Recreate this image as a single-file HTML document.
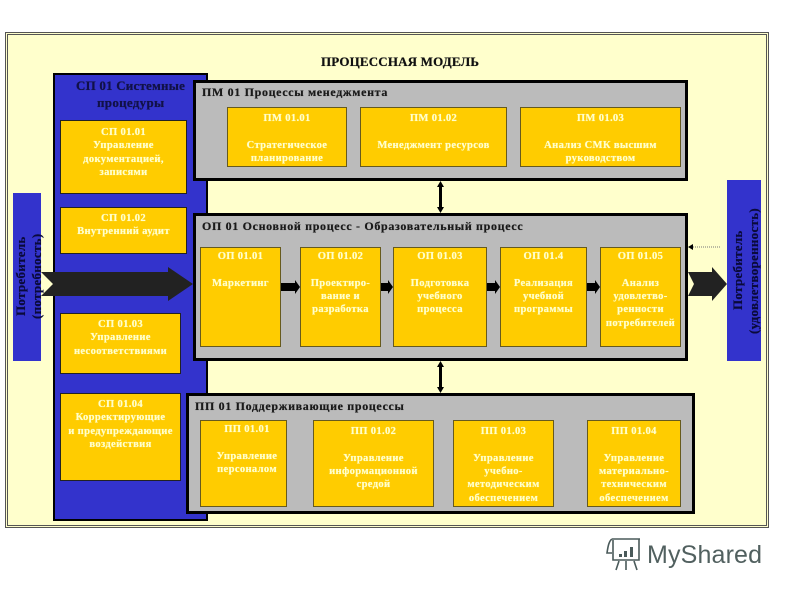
<!DOCTYPE html>
<html><head><meta charset="utf-8"><style>
html,body{margin:0;padding:0;background:#fff}
#p{position:relative;width:800px;height:600px;overflow:hidden;font-family:"Liberation Serif","Noto Serif CJK SC",serif;font-weight:bold}
#p div{position:absolute;box-sizing:border-box}
.y{background:#fc0;border:1px solid #665a1e;color:#ffc;font-size:10.6px;line-height:13.33px;text-align:center;letter-spacing:.33px;white-space:pre-line;text-shadow:0 0 .6px #ffc}
.s{border-color:#222}
.g{background:#bbb;border:3px solid #000}
.h{font-size:12px;letter-spacing:.66px;white-space:nowrap;color:#1a1a1a;line-height:14px;text-shadow:0 0 .5px #1a1a1a}
.v{writing-mode:vertical-rl;transform:rotate(180deg);text-align:center;white-space:pre-line;color:#0a0a3a;font-size:13px;line-height:16px;letter-spacing:.3px;text-shadow:0 0 .5px #0a0a3a}
</style></head><body><div id="p">
<div style="left:5px;top:32px;width:764px;height:496px;background:#ffc;border:3px double #555"></div>
<div class="h" style="left:321px;top:55px;color:#111;letter-spacing:.17px;font-size:13px">ПРОЦЕССНАЯ МОДЕЛЬ</div>

<div style="left:53px;top:73px;width:155px;height:448px;background:#33c;border:2px solid #000"></div>
<div class="h" style="left:76px;top:79px;color:#10104a;letter-spacing:.2px;font-size:13px">СП 01 Системные</div>
<div class="h" style="left:97px;top:96px;color:#10104a;letter-spacing:.3px;font-size:13px">процедуры</div>

<div class="v" style="left:13px;top:193px;width:28px;height:168px;background:#33c;overflow:visible;padding-top:2px">Потребитель
(потребность)</div>
<div class="v" style="left:727px;top:180px;width:34px;height:181px;background:#33c;padding-right:3px">Потребитель
(удовлетворенность)</div>

<div class="y s" style="left:60px;top:120px;width:127px;height:74px;padding-top:5px">СП 01.01
Управление
документацией,
записями</div>
<div class="y s" style="left:60px;top:207px;width:127px;height:47px;padding-top:4px">СП 01.02
Внутренний аудит</div>
<div class="y s" style="left:60px;top:313px;width:121px;height:61px;padding-top:4px">СП 01.03
Управление
несоответствиями</div>
<div class="y s" style="left:60px;top:393px;width:121px;height:88px;padding-top:4px">СП 01.04
Корректирующие
и предупреждающие
воздействия</div>

<div class="g" style="left:193px;top:80px;width:495px;height:101px"></div>
<div class="h" style="left:202px;top:85px">ПМ 01 Процессы менеджмента</div>
<div class="y" style="left:227px;top:107px;width:120px;height:60px;padding-top:4px">ПМ 01.01

Стратегическое
планирование</div>
<div class="y" style="left:360px;top:107px;width:147px;height:60px;padding-top:4px">ПМ 01.02

Менеджмент ресурсов</div>
<div class="y" style="left:520px;top:107px;width:161px;height:60px;padding-top:4px">ПМ 01.03

Анализ СМК высшим
руководством</div>

<div class="g" style="left:193px;top:213px;width:495px;height:148px"></div>
<div class="h" style="left:202px;top:219px">ОП 01 Основной процесс - Образовательный процесс</div>
<div class="y" style="left:200px;top:247px;width:81px;height:100px;padding-top:2px">ОП 01.01

Маркетинг</div>
<div class="y" style="left:300px;top:247px;width:81px;height:100px;padding-top:2px">ОП 01.02

Проектиро-
вание и
разработка</div>
<div class="y" style="left:393px;top:247px;width:94px;height:100px;padding-top:2px">ОП  01.03

Подготовка
учебного
процесса</div>
<div class="y" style="left:500px;top:247px;width:87px;height:100px;padding-top:2px">ОП  01.4

Реализация
учебной
программы</div>
<div class="y" style="left:600px;top:247px;width:81px;height:100px;padding-top:2px">ОП  01.05

Анализ
удовлетво-
ренности
потребителей</div>

<div class="g" style="left:186px;top:393px;width:509px;height:121px"></div>
<div class="h" style="left:195px;top:399px">ПП 01 Поддерживающие процессы</div>
<div class="y" style="left:200px;top:420px;width:87px;height:87px;padding:2px 0 0 7px">ПП 01.01

Управление
персоналом</div>
<div class="y" style="left:313px;top:420px;width:121px;height:87px;padding-top:4px">ПП 01.02

Управление
информационной
средой</div>
<div class="y" style="left:453px;top:420px;width:101px;height:87px;padding-top:4px">ПП 01.03

Управление
учебно-
методическим
обеспечением</div>
<div class="y" style="left:587px;top:420px;width:94px;height:87px;padding-top:4px">ПП 01.04

Управление
материально-
техническим
обеспечением</div>

<svg width="800" height="600" style="position:absolute;left:0;top:0">
<g fill="#222">
<path d="M41 272H168V267L193 284 168 301V296H41L53 284Z"/>
<path d="M688 272H712V267L727 284 712 301V296H688L694 284Z"/>
</g>
<g fill="#000">
<path d="M281 283H295V280L300 287 295 294V291H281Z"/>
<path d="M381 283H388V280L393 287 388 294V291H381Z"/>
<path d="M487 283H495V280L500 287 495 294V291H487Z"/>
<path d="M587 283H595V280L600 287 595 294V291H587Z"/>
<path d="M440.5 181L444 187H442V207H444L440.5 213 437 207H439V187H437Z"/>
<path d="M440.5 361L444 367H442V387H444L440.5 393 437 387H439V367H437Z"/>
<path d="M688 247L693 244V250Z"/>
</g>
<line x1="693" y1="247" x2="721" y2="247" stroke="#777" stroke-width="1" stroke-dasharray="1 1"/>
<g fill="none" stroke="#4a5a5a" stroke-width="1.6">
<path d="M612 539H640M612 539C609 541 608 546 607 553H612M613 540V560H639V539"/>
<path d="M619 561L616 570M626 561V570M634 561L637 570"/>
</g>
<g fill="#4a5a5a"><rect x="619" y="554" width="3" height="3"/><rect x="624" y="551" width="3" height="6"/><rect x="630" y="547" width="3" height="10"/></g>
<text x="647" y="563" font-family="Liberation Sans,sans-serif" font-size="25" font-weight="normal" fill="#51605f" textLength="115">MyShared</text>
</svg>
</div></body></html>
